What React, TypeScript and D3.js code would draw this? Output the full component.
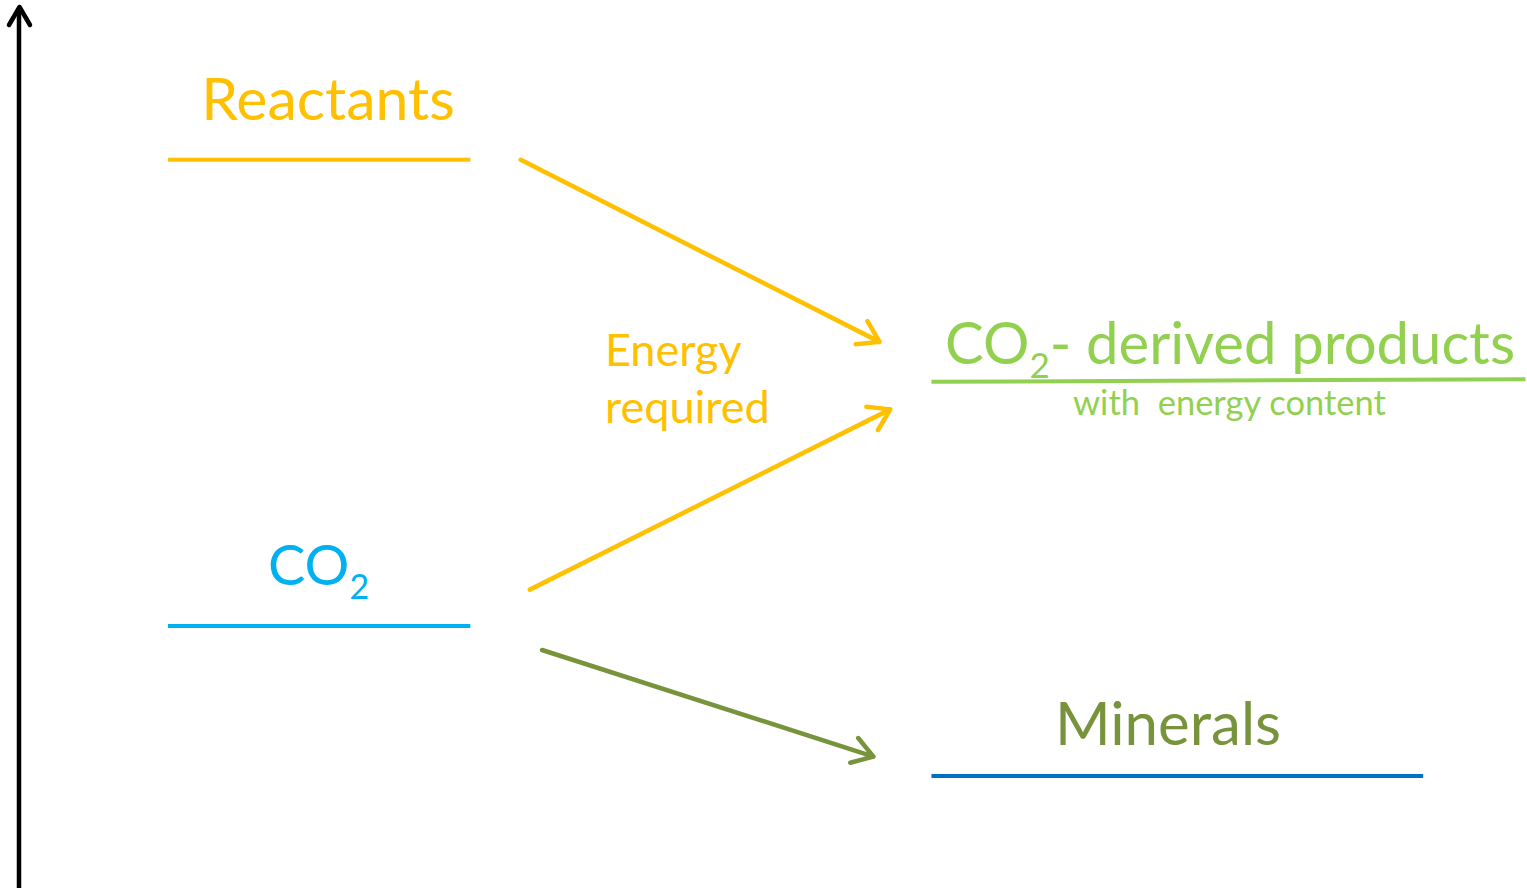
import { useEffect, useRef } from 'react';
import * as d3 from 'd3';

// energy levels (y in energy units, x extent in % of width)
const levelNames = ['Reactants', 'CO2', 'CO2- derived products', 'Minerals'];
const levelEnergyStart = [82.0, 29.5, 57.0, 12.6];
const levelEnergyEnd = [82.0, 29.5, 57.3, 12.6];
const levelXStart = [11.0, 11.0, 61.0, 61.0];
const levelXEnd = [30.8, 30.8, 99.9, 93.2];
const levelColors = ['#FFC000', '#00B0F0', '#92D050', '#0070C0'];

// arrows between levels
const arrowX0 = [34.1, 34.7, 35.5];
const arrowY0 = [82.0, 33.6, 26.8];
const arrowX1 = [57.6, 58.3, 57.2];
const arrowY1 = [61.5, 53.9, 14.8];
const arrowColors = ['#FFC000', '#FFC000', '#77933C'];

const W = 1527;
const H = 888;

function App() {
  const svgRef = useRef<SVGSVGElement>(null);

  useEffect(() => {
    const svg = d3.select(svgRef.current);
    svg.selectAll('*').remove();

    const x = d3.scaleLinear().domain([0, 100]).range([0, W]);
    const y = d3.scaleLinear().domain([0, 100]).range([H, 0]);

    // energy axis
    svg
      .append('line')
      .attr('x1', 19)
      .attr('x2', 19)
      .attr('y1', H)
      .attr('y2', 8)
      .attr('stroke', '#000')
      .attr('stroke-width', 4.5);
    svg
      .append('path')
      .attr('d', 'M9,25 L19.5,7 L30,25')
      .attr('fill', 'none')
      .attr('stroke', '#000')
      .attr('stroke-width', 4.5)
      .attr('stroke-linecap', 'round')
      .attr('stroke-linejoin', 'round');

    // level lines
    levelNames.forEach((_, i) => {
      svg
        .append('line')
        .attr('x1', x(levelXStart[i]))
        .attr('x2', x(levelXEnd[i]))
        .attr('y1', y(levelEnergyStart[i]))
        .attr('y2', y(levelEnergyEnd[i]))
        .attr('stroke', levelColors[i])
        .attr('stroke-width', 4);
    });

    // arrows
    arrowX0.forEach((_, i) => {
      const sx = x(arrowX0[i]);
      const sy = y(arrowY0[i]);
      const ex = x(arrowX1[i]);
      const ey = y(arrowY1[i]);
      const ang = Math.atan2(ey - sy, ex - sx);
      const len = 24;
      const spread = Math.PI / 5.5;
      const hx1 = ex - len * Math.cos(ang - spread);
      const hy1 = ey - len * Math.sin(ang - spread);
      const hx2 = ex - len * Math.cos(ang + spread);
      const hy2 = ey - len * Math.sin(ang + spread);
      svg
        .append('path')
        .attr('d', `M${sx},${sy} L${ex},${ey} M${hx1},${hy1} L${ex},${ey} L${hx2},${hy2}`)
        .attr('fill', 'none')
        .attr('stroke', arrowColors[i])
        .attr('stroke-width', 4.5)
        .attr('stroke-linecap', 'round')
        .attr('stroke-linejoin', 'round');
    });

    const font = 'Lato, Carlito, sans-serif';

    // labels
    svg
      .append('text')
      .attr('x', 328)
      .attr('y', 120)
      .attr('text-anchor', 'middle')
      .attr('font-family', font)
      .attr('font-size', 59)
      .attr('fill', '#FFC000')
      .text(levelNames[0]);

    const co2 = svg
      .append('text')
      .attr('x', 268)
      .attr('y', 585)
      .attr('font-family', font)
      .attr('font-size', 56)
      .attr('fill', '#00B0F0');
    co2.append('tspan').text('CO');
    co2.append('tspan').attr('font-size', 34).attr('dy', 14).text('2');

    const prod = svg
      .append('text')
      .attr('x', 945)
      .attr('y', 364)
      .attr('font-family', font)
      .attr('font-size', 58)
      .attr('fill', '#92D050');
    prod.append('tspan').text('CO');
    prod.append('tspan').attr('font-size', 35).attr('dy', 14).text('2');
    prod.append('tspan').attr('dy', -14).text('- derived products');

    svg
      .append('text')
      .attr('x', 1073)
      .attr('y', 415)
      .attr('font-family', font)
      .attr('font-size', 34.5)
      .attr('fill', '#92D050')
      .attr('xml:space', 'preserve')
      .style('white-space', 'pre')
      .text('with  energy content');

    svg
      .append('text')
      .attr('x', 1168)
      .attr('y', 745)
      .attr('text-anchor', 'middle')
      .attr('font-family', font)
      .attr('font-size', 60)
      .attr('fill', '#77933C')
      .text(levelNames[3]);

    const energy = svg
      .append('text')
      .attr('font-family', font)
      .attr('font-size', 45)
      .attr('fill', '#FFC000');
    energy.append('tspan').attr('x', 605).attr('y', 366).text('Energy');
    energy.append('tspan').attr('x', 605).attr('y', 423).text('required');
  }, []);

  return (
    <svg
      ref={svgRef}
      width={W}
      height={H}
      style={{ position: 'absolute', left: 0, top: 0, background: '#fff' }}
    />
  );
}

export default App;
